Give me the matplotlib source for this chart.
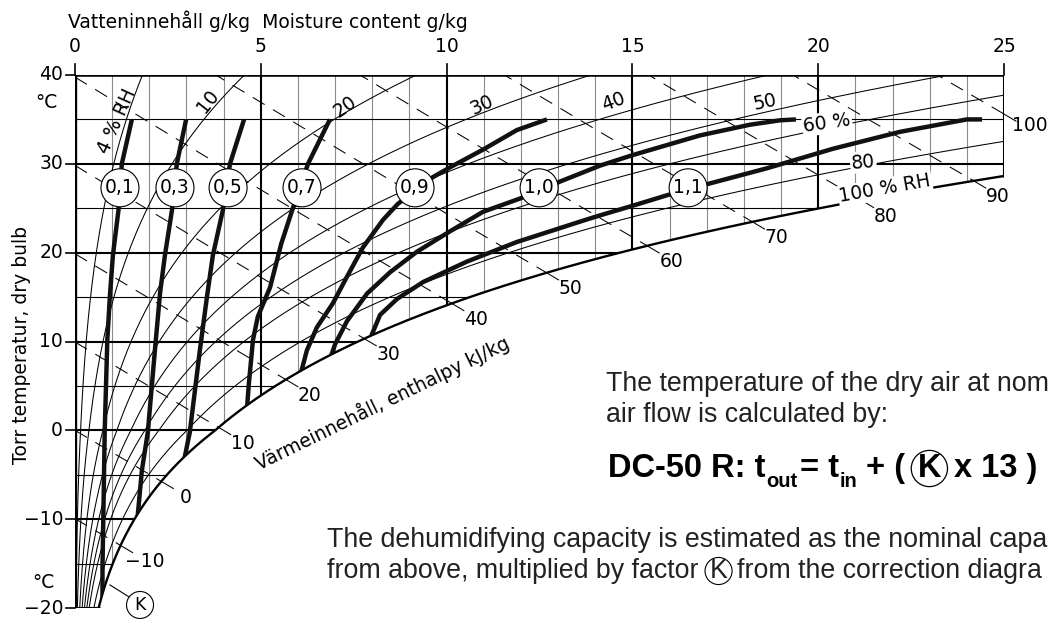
import numpy as np
import matplotlib
matplotlib.use('Agg')
import matplotlib.pyplot as plt
from matplotlib.patches import Polygon, Ellipse

plt.rcParams['font.family'] = ['DejaVu Sans']
plt.rcParams['lines.scale_dashes'] = False

# ----------------------------------------------------------------------------
# chart values
# ----------------------------------------------------------------------------
P_ATM = 101.325  # kPa

rh_levels = [4, 10, 20, 30, 40, 50, 60, 80]                 # % RH curves
h_levels = [-10, 0, 10, 20, 30, 40, 50, 60, 70, 80, 90, 100]  # kJ/kg
temp_ticks = [-20, -10, 0, 10, 20, 30, 40]
moist_ticks = [0, 5, 10, 15, 20, 25]

# K correction curves (moisture g/kg, temperature C)
k_names = ['0,1', '0,3', '0,5', '0,7', '0,9', '1,0', '1,1']
k01_x = [1.53, 1.26, 1.17, 1.02, 0.94, 0.87, 0.80, 0.76, 0.74, 0.74]
k01_t = [35.0, 30.0, 24.8, 19.7, 15.2, 10.2, 0.0, -10.4, -15.4, -19.0]
k03_x = [2.99, 2.74, 2.61, 2.42, 2.29, 2.15, 1.96, 1.80, 1.67]
k03_t = [35.0, 30.0, 24.8, 19.7, 15.5, 9.0, -0.2, -4.5, -10.4]
k05_x = [4.55, 4.17, 3.98, 3.71, 3.55, 3.36, 3.09, 2.91]
k05_t = [35.0, 30.0, 24.8, 19.7, 15.0, 9.0, -0.2, -3.9]
k07_x = [6.86, 6.27, 5.87, 5.55, 5.25, 4.92, 4.79, 4.68, 4.63]
k07_t = [35.0, 30.0, 25.1, 21.0, 16.1, 12.8, 10.2, 5.3, 2.6]
k09_x = [12.70, 11.89, 10.98, 10.09, 9.63, 8.69, 8.29, 7.75, 7.32, 6.94, 6.51, 6.24, 6.05]
k09_t = [35.0, 33.8, 31.6, 29.6, 28.5, 25.5, 23.7, 20.6, 17.3, 14.3, 11.6, 9.0, 6.0]
k10_x = [19.40, 18.97, 18.16, 16.82, 15.02, 14.13, 13.05, 11.98, 10.98, 10.09,
         9.20, 8.48, 7.86, 7.32, 7.00, 6.86]
k10_t = [35.0, 34.9, 34.4, 33.2, 31.0, 29.8, 28.0, 26.1, 24.6, 22.4,
         20.1, 17.8, 15.4, 12.3, 9.7, 8.0]
k11_x = [24.41, 24.00, 22.20, 20.40, 18.62, 17.09, 15.96, 15.02, 14.13, 13.67,
         11.89, 10.55, 9.37, 8.67, 8.21, 7.99, 7.94]
k11_t = [35.0, 35.0, 33.6, 31.7, 29.5, 27.8, 26.5, 25.3, 24.2, 23.6,
         21.2, 19.0, 16.7, 14.8, 13.0, 10.8, 10.2]
k_curves = [(k01_x, k01_t), (k03_x, k03_t), (k05_x, k05_t), (k07_x, k07_t),
            (k09_x, k09_t), (k10_x, k10_t), (k11_x, k11_t)]
k_label_x = [1.21, 2.69, 4.12, 6.11, 9.15, 12.49, 16.50]
k_label_t = 27.3

# ----------------------------------------------------------------------------
# psychrometrics (the h-x grid itself)
# ----------------------------------------------------------------------------
def p_sat(t):
    t = np.asarray(t, dtype=float)
    water = 0.61094 * np.exp(17.625 * t / (t + 243.04))
    ice = 0.61115 * np.exp(22.452 * t / (272.55 + t))
    return np.where(t >= 0, water, ice)


def moisture(t, phi):
    pw = phi * p_sat(t)
    return 622.0 * pw / (P_ATM - pw)


def enthalpy(t, x):
    return 1.006 * t + x * (2501 + 1.86 * t) / 1000.0


def temp_on_h(h, x):
    return (h - 2.501 * x) / (1.006 + 0.00186 * x)


# ----------------------------------------------------------------------------
# figure
# ----------------------------------------------------------------------------
W, H = 1050, 619
fig = plt.figure(figsize=(W / 100, H / 100), dpi=100)
ax = fig.add_axes([75 / W, 11 / H, 929 / W, 533 / H])
ax.set_xlim(0, 25)
ax.set_ylim(-20, 40)
ax.axis('off')
PX_X = 929 / 25.0   # pixels per g/kg
PX_T = 533 / 60.0   # pixels per deg C
FS = 13.5           # chart label size

t_fine = np.linspace(-20, 40, 1201)
x_sat = moisture(t_fine, 1.0)
t25 = np.interp(25, x_sat, t_fine)
keep = x_sat <= 25
sat_x = np.concatenate([x_sat[keep], [25]])
sat_t = np.concatenate([t_fine[keep], [t25]])

verts = [(0, -20), (0, 40), (25, 40)] + list(zip(sat_x[::-1], sat_t[::-1]))
region = Polygon(verts, closed=True, transform=ax.transData, fc='none', ec='none')
ax.add_patch(region)


def clipped(line_list):
    for ln in line_list:
        ln.set_clip_path(region)


# grid
for t in range(-20, 41, 5):
    thick = t % 10 == 0
    clipped(ax.plot([0, 25], [t, t], color='black', lw=1.5 if thick else 0.8, zorder=2))
for x in range(0, 26):
    if x % 5 == 0:
        clipped(ax.plot([x, x], [-20, 40], color='black', lw=1.5, zorder=2))
    else:
        clipped(ax.plot([x, x], [-20, 40], color='#8a8a8a', lw=0.8, zorder=1))

# relative humidity curves
for rh in rh_levels:
    clipped(ax.plot(moisture(t_fine, rh / 100.0), t_fine, color='black', lw=0.75, zorder=3))

# enthalpy lines
h_sat = enthalpy(sat_t, sat_x)
xs = np.linspace(0, 25, 500)
tail_dx, tail_dt = 14 * 0.86 / PX_X, -14 * 0.51 / PX_T
for h in h_levels:
    clipped(ax.plot(xs, temp_on_h(h, xs), color='black', lw=0.75,
                    ls=(0, (10, 7)), zorder=3))
    if h <= h_sat[-1]:
        xe = np.interp(h, h_sat, sat_x)
        te = np.interp(h, h_sat, sat_t)
        lab = (24, -16)
    else:
        xe, te = 25, temp_on_h(h, 25)
        lab = (26, -11)
    ax.plot([xe, xe + tail_dx], [te, te + tail_dt], color='black', lw=0.75,
            clip_on=False, zorder=3)
    ax.text(xe + lab[0] / PX_X, te + lab[1] / PX_T, str(h).replace('-', '\u2212'),
            fontsize=FS, ha='center', va='center', zorder=6)

# chart outline
ax.plot([0, 0], [-20, 40], color='black', lw=2.4, zorder=5, solid_capstyle='projecting')
ax.plot([0, 25], [40, 40], color='black', lw=1.8, zorder=5)
ax.plot([25, 25], [t25, 40], color='black', lw=1.8, zorder=5)
ax.plot(sat_x, sat_t, color='black', lw=1.7, zorder=5)
ax.plot([0, x_sat[0]], [-20, -20], color='black', lw=1.8, zorder=5)

# K curves
for (kx, kt) in k_curves:
    clipped(ax.plot(kx, kt, color='#111111', lw=3.2, zorder=7, solid_capstyle='butt'))

for name, cx in zip(k_names, k_label_x):
    ax.add_patch(Ellipse((cx, k_label_t), 38 / PX_X, 38 / PX_T, fc='white',
                         ec='black', lw=0.8, zorder=8))
    ax.text(cx, k_label_t, name, fontsize=FS, ha='center', va='center', zorder=9)

# ticks and tick labels
for x in moist_ticks:
    ax.plot([x, x], [40, 40 + 11 / PX_T], color='black', lw=1.2, clip_on=False)
    ax.text(x, 40 + 28 / PX_T, str(x), fontsize=FS, ha='center', va='center')
for t in temp_ticks:
    ax.plot([-9 / PX_X, 0], [t, t], color='black', lw=1.2, clip_on=False)
    ax.text(-12 / PX_X, t, str(t).replace('-', '\u2212'), fontsize=FS,
            ha='right', va='center')

ax.text(-0.78, 36.9, '°C', fontsize=FS, ha='center', va='center')
ax.text(-0.86, -17.1, '°C', fontsize=FS, ha='center', va='center')
ax.text(-1.43, 9.6, 'Torr temperatur, dry bulb', fontsize=FS, rotation=90,
        ha='center', va='center')
ax.text(-0.19, 46.0, 'Vatteninnehåll g/kg  Moisture content g/kg', fontsize=FS,
        ha='left', va='center', clip_on=False)
ax.text(8.26, 3.1, 'Värmeinnehåll, enthalpy kJ/kg', fontsize=FS, rotation=26,
        ha='center', va='center', rotation_mode='anchor')

# RH labels
white = dict(fc='white', ec='none', pad=1.0)
ax.text(1.12, 34.8, '4 % RH', fontsize=FS, rotation=66, ha='center', va='center', zorder=6)
ax.text(3.58, 37.0, '10', fontsize=FS, rotation=52, ha='center', va='center', zorder=6)
ax.text(7.27, 36.4, '20', fontsize=FS, rotation=35, ha='center', va='center', zorder=6)
ax.text(10.95, 36.6, '30', fontsize=FS, rotation=25, ha='center', va='center', zorder=6)
ax.text(14.48, 37.0, '40', fontsize=FS, rotation=20, ha='center', va='center', zorder=6)
ax.text(18.57, 36.9, '50', fontsize=FS, rotation=12, ha='center', va='center', zorder=6)
ax.text(20.24, 34.6, '60 %', fontsize=FS, rotation=8, ha='center', va='center',
        zorder=6, bbox=white)
ax.text(21.21, 30.2, '80', fontsize=FS, rotation=5, ha='center', va='center',
        zorder=6, bbox=white)
ax.text(21.8, 27.2, '100 % RH', fontsize=FS, rotation=10, ha='center', va='center',
        zorder=6, bbox=white)

# (K) marker at the bottom
ax.plot([0.94, 1.51], [-17.4, -18.9], color='black', lw=0.8, clip_on=False, zorder=6)
ax.add_patch(Ellipse((1.75, -19.66), 27 / PX_X, 27 / PX_T, fc='white', ec='black',
                     lw=0.8, zorder=8, clip_on=False))
ax.text(1.75, -19.66, 'K', fontsize=12.5, ha='center', va='center', zorder=9, clip_on=False)

# ----------------------------------------------------------------------------
# explanatory text, truncated at the right edge just as the original shows it
# ----------------------------------------------------------------------------
def fx(px):
    return px / W


def fy(py):
    return 1 - py / H


SANS = ['Liberation Sans', 'DejaVu Sans']
TXT = 19.3
INK = '#222222'
fig.text(fx(606), fy(391), 'The temperature of the dry air at nom', fontsize=TXT,
         va='baseline', color=INK, family=SANS)
fig.text(fx(606), fy(422), 'air flow is calculated by:', fontsize=TXT,
         va='baseline', color=INK, family=SANS)

BIG, SUB = 23.5, 14.5
bold = dict(fontsize=BIG, weight='bold', family=SANS, ha='left',
            annotation_clip=False, textcoords='offset points')
small = dict(fontsize=SUB, weight='bold', family=SANS, ha='left', va='baseline',
             annotation_clip=False, textcoords='offset points')
p1 = fig.text(fx(608), fy(477), 'DC-50 R: t', fontsize=BIG, weight='bold',
              va='baseline', family=SANS)
s1 = ax.annotate('out', xy=(1, 0), xycoords=p1, xytext=(0.5, -2), **small)
p2 = ax.annotate('= t', xy=(1, 0), xycoords=(s1, p1), xytext=(2, 0), va='bottom', **bold)
s2 = ax.annotate('in', xy=(1, 0), xycoords=p2, xytext=(0.5, -2), **small)
p3 = ax.annotate('+ (', xy=(1, 0), xycoords=(s2, p1), xytext=(6, 0), va='bottom', **bold)
kk = ax.annotate('K', xy=(1, 0), xycoords=(p3, p1), xytext=(9, 0), va='bottom',
                 bbox=dict(boxstyle='circle,pad=0.08', fc='none', ec='black', lw=0.9),
                 **bold)
ax.annotate('x 13 )', xy=(1, 0), xycoords=(kk, p1), xytext=(9, 0), va='bottom', **bold)

fig.text(fx(327), fy(547), 'The dehumidifying capacity is estimated as the nominal capa',
         fontsize=TXT, va='baseline', color=INK, family=SANS)
q1 = fig.text(fx(327), fy(578), 'from above, multiplied by factor', fontsize=TXT,
              va='baseline', color=INK, family=SANS)
q2 = ax.annotate('K', xy=(1, 0), xycoords=q1, xytext=(8, 0), textcoords='offset points',
                 fontsize=TXT, va='bottom', ha='left', color=INK, family=SANS,
                 annotation_clip=False,
                 bbox=dict(boxstyle='circle,pad=0.02', fc='none', ec='black', lw=0.8))
ax.annotate('from the correction diagra', xy=(1, 0), xycoords=(q2, q1), xytext=(7, 0),
            textcoords='offset points', fontsize=TXT, va='bottom', ha='left',
            color=INK, family=SANS, annotation_clip=False)

fig.savefig('out.png', dpi=100)
